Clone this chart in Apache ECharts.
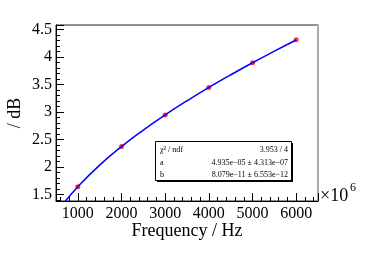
<!DOCTYPE html>
<html>
<head>
<meta charset="utf-8">
<script src="https://cdn.jsdelivr.net/npm/echarts@6/dist/echarts.min.js"></script>
<style>
html,body{margin:0;padding:0;background:#fff;}
#c{width:374px;height:253px;}
</style>
</head>
<body>
<div id="c"></div>
<script>
// Measured points (frequency in 10^6 Hz, value in dB)
const freq = [1000, 2000, 3000, 4000, 5000, 6000];
const values = [1.64, 2.37, 2.945, 3.445, 3.895, 4.31];
// Fit curve
const fitFreq = [700, 1000, 1500, 2000, 2500, 3000, 3500, 4000, 4500, 5000, 5500, 6000];
const fitValues = [1.362, 1.641, 2.032, 2.369, 2.670, 2.945, 3.202, 3.444, 3.674, 3.894, 4.104, 4.307];
// Stats box
const statNames = ['χ² / ndf', 'a', 'b'];
const statValues = ['3.953 / 4', '4.935e−05 ± 4.313e−07', '8.079e−11 ± 6.553e−12'];
const xTitle = 'Frequency / Hz';
const yTitle = '/ dB';

const chart = echarts.init(document.getElementById('c'), null, {renderer: 'canvas'});
const font = 'Liberation Serif';

const statGraphics = [];
statGraphics.push({type: 'rect', shape: {x: 157, y: 143, width: 136, height: 39}, style: {fill: '#000'}, z: 10});
statGraphics.push({type: 'rect', shape: {x: 155.5, y: 141.5, width: 136, height: 39}, style: {fill: '#fff', stroke: '#000', lineWidth: 1}, z: 11});
const rowY = [149.5, 162.5, 174.5];
statNames.forEach((n, i) => {
  statGraphics.push({type: 'text', x: 160, y: rowY[i], z: 12,
    style: {text: n, font: '8px "' + font + '"', fill: '#000', textVerticalAlign: 'middle', verticalAlign: 'middle'}});
  statGraphics.push({type: 'text', x: 288, y: rowY[i], z: 12,
    style: {text: statValues[i], font: '8px "' + font + '"', fill: '#000', align: 'right', textAlign: 'right', verticalAlign: 'middle', textVerticalAlign: 'middle'}});
});

chart.setOption({
  animation: false,
  backgroundColor: '#fff',
  textStyle: {fontFamily: font},
  grid: {left: 56, right: 56, top: 25, bottom: 52, containLabel: false, outerBoundsMode: 'none',
    show: true, borderColor: '#222', borderWidth: 1, backgroundColor: 'transparent'},
  xAxis: {
    type: 'value', min: 500, max: 6500, splitNumber: 6,
    name: xTitle, nameLocation: 'middle', nameGap: 21, nameMoveOverlap: false,
    nameTextStyle: {fontFamily: font, fontSize: 18, color: '#000'},
    axisLine: {show: true, onZero: false, lineStyle: {color: '#000', width: 1}},
    axisTick: {show: true, inside: true, length: 8, lineStyle: {color: '#000'}},
    minorTick: {show: true, splitNumber: 5, length: 4, lineStyle: {color: '#000'}},
    axisLabel: {showMinLabel: false, showMaxLabel: false, fontFamily: font, fontSize: 16, color: '#000', margin: 5,
      formatter: v => String(v)},
    splitLine: {show: false}
  },
  yAxis: [{
    type: 'value', min: 1.38, max: 4.58, splitNumber: 6,
    name: yTitle, nameLocation: 'middle', nameGap: 32, nameMoveOverlap: false,
    nameTextStyle: {fontFamily: font, fontSize: 18, color: '#000'},
    axisLine: {show: true, onZero: false, lineStyle: {color: '#000', width: 1}},
    axisTick: {show: true, inside: true, length: 8, lineStyle: {color: '#000'}},
    minorTick: {show: true, splitNumber: 5, length: 4, lineStyle: {color: '#000'}},
    axisLabel: {showMinLabel: false, showMaxLabel: false, fontFamily: font, fontSize: 16, color: '#000', margin: 4},
    splitLine: {show: false}
  }, {
    type: 'value', min: 1.38, max: 4.58, position: 'right',
    axisLine: {show: true, lineStyle: {color: '#aaa', width: 2}},
    axisTick: {show: false}, axisLabel: {show: false}, splitLine: {show: false}
  }],
  series: [{
    type: 'scatter', data: freq.map((f, i) => [f, values[i]]),
    symbol: 'circle', symbolSize: 5, itemStyle: {color: '#ff0000'}, z: 2
  }, {
    type: 'line', data: fitFreq.map((f, i) => [f, fitValues[i]]),
    smooth: true, showSymbol: false, clip: true,
    lineStyle: {color: '#0000ff', width: 1.5}, z: 3
  }],
  graphic: [
    {type: 'text', x: 320, y: 196, z: 5,
      style: {text: '×10', font: '18px "' + font + '"', fill: '#000', verticalAlign: 'middle', textVerticalAlign: 'middle'}},
    {type: 'text', x: 350, y: 188, z: 5,
      style: {text: '6', font: '12px "' + font + '"', fill: '#000', verticalAlign: 'middle', textVerticalAlign: 'middle'}}
  ].concat(statGraphics)
});
</script>
</body>
</html>
